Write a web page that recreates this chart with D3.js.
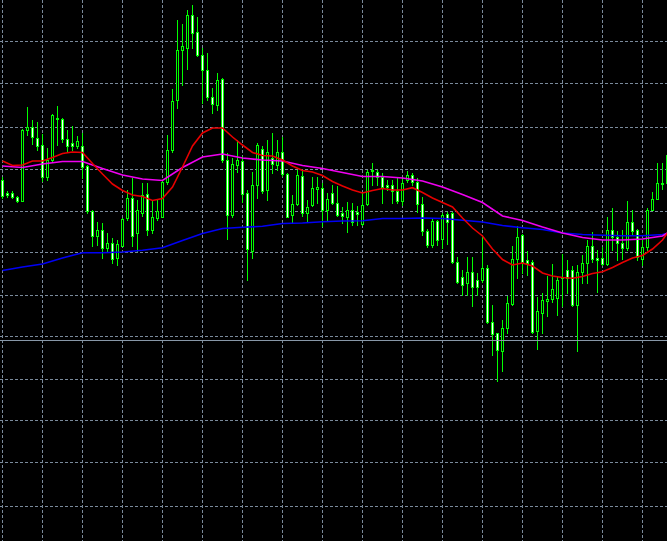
<!DOCTYPE html>
<html>
<head>
<meta charset="utf-8">
<script src="https://cdn.jsdelivr.net/npm/d3@7"></script>
<style>
html,body{margin:0;padding:0;background:#000;overflow:hidden}
svg{display:block}
</style>
</head>
<body>
<svg id="chart" width="667" height="541"></svg>
<script>
// ---- data (price quotes) ----
const open = [
1.31200,1.31070,1.31065,1.31030,1.30995,1.31700,1.31730,1.31625,1.31550,1.31235,
1.31405,1.31825,1.31815,1.31610,1.31575,1.31545,1.31540,1.31340,1.30890,1.30640,
1.30700,1.30520,1.30570,1.30420,1.30545,1.30820,1.31025,1.30670,1.30870,1.31060,
1.30700,1.30820,1.30835,1.31180,1.31495,1.32000,1.32495,1.32520,1.32850,1.32680,
1.32450,1.32300,1.32035,1.31950,1.32210,1.31400,1.30850,1.31350,1.31390,1.31065,
1.30485,1.31150,1.31515,1.31100,1.31420,1.31350,1.31480,1.31260,1.30850,1.30960,
1.31240,1.30870,1.30950,1.31115,1.31125,1.30895,1.31065,1.30970,1.30865,1.30835,
1.30905,1.30880,1.30760,1.30960,1.31285,1.31275,1.31235,1.31150,1.31150,1.31095,
1.30995,1.31200,1.31250,1.31180,1.30960,1.30690,1.30550,1.30790,1.30610,1.30860,
1.30865,1.30385,1.30230,1.30170,1.30280,1.30200,1.30200,1.30325,1.29785,1.29665,
1.29490,1.29720,1.29960,1.30410,1.30650,1.30400,1.30385,1.29685,1.29870,1.29995,
1.30010,1.30020,1.30220,1.30300,1.30300,1.29950,1.30275,1.30375,1.30540,1.30425,
1.30425,1.30360,1.30700,1.30635,1.30575,1.30520,1.30785,1.30700,1.30410,1.30530,
1.30905,1.31015,1.31160,1.31170];
const high = [
1.31230,1.31090,1.31090,1.31040,1.31710,1.31930,1.31800,1.31780,1.31660,1.31520,
1.31860,1.31940,1.31820,1.31700,1.31745,1.31640,1.31670,1.31350,1.30900,1.30780,
1.30770,1.30670,1.30620,1.30600,1.30820,1.31100,1.31220,1.31000,1.31170,1.31170,
1.31000,1.31000,1.31200,1.31650,1.32110,1.32800,1.32760,1.32900,1.32950,1.32830,
1.32520,1.32470,1.32120,1.32270,1.32220,1.31470,1.31420,1.31600,1.31440,1.31100,
1.31280,1.31570,1.31540,1.31600,1.31670,1.31600,1.31630,1.31270,1.31050,1.31300,
1.31300,1.31000,1.31230,1.31230,1.31170,1.31070,1.31150,1.31140,1.30930,1.30980,
1.30970,1.30940,1.31070,1.31300,1.31370,1.31300,1.31270,1.31200,1.31200,1.31220,
1.31220,1.31290,1.31270,1.31220,1.31030,1.30710,1.30820,1.30800,1.30870,1.30880,
1.30880,1.30430,1.30300,1.30430,1.30430,1.30270,1.30640,1.30350,1.29950,1.29670,
1.29800,1.30040,1.30540,1.30740,1.30660,1.30490,1.30400,1.30030,1.30070,1.30240,
1.30360,1.30240,1.30460,1.30400,1.30340,1.30350,1.30450,1.30600,1.30680,1.30500,
1.30530,1.30830,1.30920,1.30690,1.30700,1.30990,1.30900,1.30710,1.30600,1.30920,
1.31080,1.31370,1.31370,1.31480];
const low = [
1.31020,1.31030,1.31020,1.30980,1.30990,1.31650,1.31560,1.31500,1.31190,1.31200,
1.31390,1.31550,1.31580,1.31480,1.31500,1.31520,1.31220,1.30870,1.30540,1.30550,
1.30420,1.30480,1.30370,1.30350,1.30540,1.30800,1.30540,1.30490,1.30840,1.30650,
1.30670,1.30800,1.30830,1.31160,1.31480,1.31920,1.32150,1.32310,1.32520,1.32440,
1.31970,1.32000,1.31870,1.31900,1.31380,1.30610,1.30830,1.31280,1.30980,1.30200,
1.30420,1.31020,1.31070,1.31000,1.31270,1.31300,1.31240,1.30830,1.30770,1.30950,
1.30840,1.30780,1.30940,1.30970,1.30740,1.30800,1.30960,1.30840,1.30770,1.30680,
1.30750,1.30750,1.30750,1.30950,1.31150,1.31150,1.30970,1.31100,1.30970,1.30970,
1.30950,1.31180,1.31150,1.30880,1.30650,1.30530,1.30530,1.30550,1.30520,1.30560,
1.30370,1.30170,1.30050,1.30050,1.29940,1.30050,1.30180,1.29770,1.29450,1.29190,
1.29290,1.29670,1.29950,1.30220,1.30270,1.30250,1.29670,1.29510,1.29670,1.29840,
1.29980,1.29850,1.29940,1.30070,1.29940,1.29490,1.30170,1.30170,1.30380,1.30080,
1.30350,1.30350,1.30500,1.30400,1.30410,1.30500,1.30650,1.30400,1.30350,1.30500,
1.30900,1.31010,1.31110,1.31150];
const close = [
1.31040,1.31050,1.31030,1.30995,1.31700,1.31735,1.31635,1.31545,1.31235,1.31400,
1.31850,1.31810,1.31610,1.31545,1.31545,1.31590,1.31335,1.30890,1.30640,1.30700,
1.30520,1.30575,1.30410,1.30565,1.30815,1.31020,1.30640,1.30900,1.31050,1.30700,
1.30835,1.30890,1.31180,1.31500,1.31990,1.32500,1.32540,1.32850,1.32670,1.32450,
1.32295,1.32035,1.31960,1.32200,1.31400,1.30850,1.31365,1.31400,1.31060,1.30510,
1.31150,1.31550,1.31085,1.31480,1.31360,1.31480,1.31260,1.30835,1.30960,1.31250,
1.30870,1.30930,1.31125,1.31130,1.30895,1.31010,1.30970,1.30850,1.30840,1.30900,
1.30785,1.30860,1.30950,1.31280,1.31300,1.31235,1.31135,1.31135,1.31095,1.30995,
1.31175,1.31250,1.31180,1.30960,1.30685,1.30550,1.30790,1.30600,1.30850,1.30785,
1.30385,1.30180,1.30150,1.30280,1.30135,1.30135,1.30325,1.29785,1.29660,1.29500,
1.29725,1.29975,1.30415,1.30630,1.30380,1.30375,1.29675,1.29885,1.30005,1.30010,
1.30115,1.30200,1.30235,1.30220,1.29950,1.30275,1.30375,1.30540,1.30410,1.30400,
1.30360,1.30700,1.30635,1.30575,1.30525,1.30785,1.30685,1.30430,1.30530,1.30905,
1.31015,1.31170,1.31170,1.31450];

// moving averages, read every 2nd bar (fast) / every 4th bar (slower), plus the last bar
const maFast = [
1.31390,1.31345,1.31350,1.31390,1.31390,1.31425,1.31465,1.31480,1.31475,1.31365,
1.31260,1.31160,1.31095,1.31050,1.31035,1.30995,1.31015,1.31130,1.31330,1.31540,
1.31670,1.31720,1.31720,1.31630,1.31550,1.31475,1.31445,1.31440,1.31400,1.31340,
1.31295,1.31280,1.31245,1.31185,1.31140,1.31100,1.31070,1.31095,1.31115,1.31100,
1.31100,1.31123,1.31075,1.31020,1.30975,1.30930,1.30820,1.30720,1.30640,1.30510,
1.30405,1.30350,1.30370,1.30340,1.30270,1.30240,1.30225,1.30217,1.30235,1.30265,
1.30283,1.30325,1.30375,1.30420,1.30445,1.30510,1.30600,1.30670];
const maMid = [
1.31340,1.31325,1.31360,1.31385,1.31385,1.31315,1.31250,1.31210,1.31195,1.31325,
1.31430,1.31460,1.31420,1.31400,1.31390,1.31345,1.31315,1.31275,1.31235,1.31235,
1.31220,1.31190,1.31130,1.31055,1.30975,1.30840,1.30795,1.30730,1.30670,1.30625,
1.30600,1.30600,1.30610,1.30640,1.30670];
const maSlow = [
1.30295,1.30330,1.30360,1.30420,1.30473,1.30473,1.30480,1.30497,1.30522,1.30595,
1.30665,1.30715,1.30727,1.30737,1.30765,1.30770,1.30783,1.30790,1.30793,1.30815,
1.30815,1.30820,1.30815,1.30797,1.30780,1.30745,1.30723,1.30705,1.30670,1.30655,
1.30648,1.30642,1.30642,1.30655,1.30665];

// grid price levels, vertical grid bars, horizontal line level
const gridLevels = [1.32585,1.32160,1.31725,1.31310,1.30885,1.30475,1.30050,1.29635,1.29210,1.28800,1.28370,1.27935];
const gridBars = [0,8,16,24,32,40,48,56,64,72,80,88,96,104,112,120,128];
const hLinePrice = 1.29597;

// ---- chart ----
const W = 667, H = 541;
const nBars = open.length;
const svg = d3.select('#chart');
svg.append('rect').attr('width', W).attr('height', H).attr('fill', '#000');

const y = d3.scaleLinear().domain([1.2759, 1.3300]).range([H, 0]);
const x = d3.scaleLinear().domain([0, nBars - 1]).range([2, 2 + 5 * (nBars - 1)]);
const py = p => Math.round(y(p));

// grid
const grid = svg.append('g').attr('stroke', '#7a8a9b').attr('stroke-width', 1)
  .attr('stroke-dasharray', '3,2').attr('shape-rendering', 'crispEdges');
grid.selectAll('line.h').data(gridLevels).join('line').attr('class', 'h')
  .attr('x1', 0).attr('x2', W)
  .attr('y1', d => Math.floor(y(d)) + 0.5).attr('y2', d => Math.floor(y(d)) + 0.5);
grid.selectAll('line.v').data(gridBars).join('line').attr('class', 'v')
  .attr('y1', 0).attr('y2', H)
  .attr('x1', d => x(d) + 0.5).attr('x2', d => x(d) + 0.5);

// candles
const bars = d3.range(nBars).map(i => ({i, o: open[i], h: high[i], l: low[i], c: close[i]}));
const cg = svg.append('g').attr('shape-rendering', 'crispEdges');
const cand = cg.selectAll('g').data(bars).join('g');
cand.append('rect')
  .attr('x', d => x(d.i)).attr('width', 1)
  .attr('y', d => py(d.h)).attr('height', d => py(d.l) - py(d.h) + 1)
  .attr('fill', '#00ff00');
cand.append('rect')
  .attr('x', d => x(d.i) - 1).attr('width', 3)
  .attr('y', d => py(Math.max(d.o, d.c)))
  .attr('height', d => py(Math.min(d.o, d.c)) - py(Math.max(d.o, d.c)) + 1)
  .attr('fill', '#00ff00');
cand.filter(d => py(Math.min(d.o, d.c)) - py(Math.max(d.o, d.c)) >= 2)
  .append('rect')
  .attr('x', d => x(d.i)).attr('width', 1)
  .attr('y', d => py(Math.max(d.o, d.c)) + 1)
  .attr('height', d => py(Math.min(d.o, d.c)) - py(Math.max(d.o, d.c)) - 1)
  .attr('fill', d => d.c >= d.o ? '#000000' : '#ffffff');

// horizontal line object
svg.append('line').attr('x1', 0).attr('x2', W)
  .attr('y1', Math.floor(y(hLinePrice)) + 0.5).attr('y2', Math.floor(y(hLinePrice)) + 0.5)
  .attr('stroke', '#8898a8').attr('stroke-width', 1).attr('shape-rendering', 'crispEdges');

// moving averages
function idxEvery(step, n) { const a = d3.range(0, n, step); if (a[a.length - 1] !== nBars - 1) a.push(nBars - 1); return a; }
const series = [
  {vals: maSlow, idx: idxEvery(4, nBars - 1), color: '#0000f5'},
  {vals: maMid, idx: idxEvery(4, nBars - 1), color: '#f000f0'},
  {vals: maFast, idx: idxEvery(2, nBars - 1), color: '#e60000'}
];
const line = d3.line().x(d => x(d[0]) + 0.5).y(d => y(d[1]));
svg.append('g').selectAll('path').data(series).join('path')
  .attr('d', s => line(s.vals.map((v, j) => [s.idx[j], v])))
  .attr('fill', 'none').attr('stroke', s => s.color).attr('stroke-width', 1.6);
</script>
</body>
</html>
